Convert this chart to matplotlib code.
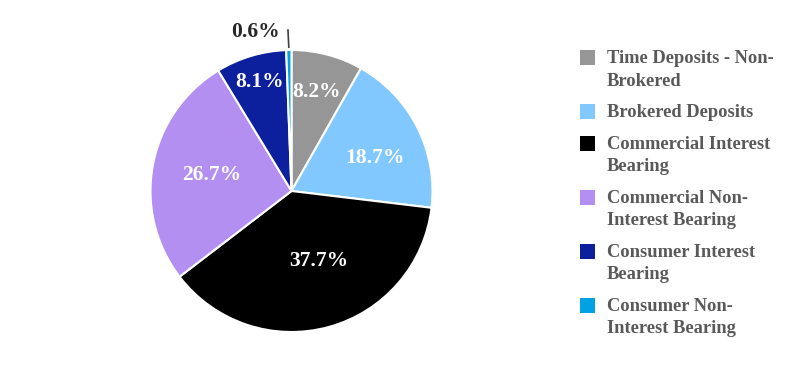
import matplotlib
matplotlib.use("Agg")
import matplotlib.pyplot as plt
from matplotlib.patches import Rectangle
import numpy as np

categories = ["Time Deposits - Non-\nBrokered", "Brokered Deposits", "Commercial Interest\nBearing",
              "Commercial Non-\nInterest Bearing", "Consumer Interest\nBearing", "Consumer Non-\nInterest Bearing"]
values = [8.2, 18.7, 37.7, 26.7, 8.1, 0.6]
colors = ["#969696", "#80c8ff", "#000000", "#b38ff2", "#0c1f9c", "#00a2e3"]

# label positions (data units of the pie axes, radius 1)
label_pos = [(0.174, 0.702), (0.592, 0.234), (0.191, -0.50), (-0.564, 0.116), (-0.227, 0.77), (-0.259, 1.131)]

plt.rcParams['font.family'] = ['Liberation Serif', 'DejaVu Serif']
W, H = 806, 384
fig = plt.figure(figsize=(W/100, H/100), dpi=100)
cx, cy, r = 291.5, 191, 141
ax = fig.add_axes([(cx-r)/W, (H-cy-r)/H, 2*r/W, 2*r/H])
wedges, _ = ax.pie(values, colors=colors, startangle=90, counterclock=False, radius=1,
                   wedgeprops=dict(edgecolor="white", linewidth=1.5))
ax.set_xlim(-1, 1); ax.set_ylim(-1, 1); ax.set_aspect('equal'); ax.axis('off')

cum = 0
for i, v in enumerate(values):
    mid = 90 - (cum + v/2) * 3.6
    cum += v
    lx, ly = label_pos[i]
    if i < 5:
        ax.text(lx, ly, f"{v}%", ha='center', va='center', color='white',
                fontsize=15.5, fontweight='bold')
    else:
        x0, y0 = np.cos(np.radians(mid)), np.sin(np.radians(mid))
        ax.plot([x0*1.02, -0.025], [y0*1.02, 1.142], color='#404040', lw=1.2, clip_on=False)
        ax.text(lx, ly, f"{v}%", ha='center', va='center', color='#262626',
                fontsize=15.5, fontweight='bold', clip_on=False)

# legend
base0, line_step, entry_gap = 63.3, 22.2, 31.8
b = base0
for lab, c in zip(categories, colors):
    lines = lab.split("\n")
    fig.patches.append(Rectangle((580/W, (H-b-2)/H), 15/W, 15/H, transform=fig.transFigure,
                                 facecolor=c, edgecolor='none'))
    for j, ln in enumerate(lines):
        fig.text(607/W, (H-b)/H, ln, ha='left', va='baseline',
                 color='#595959', fontsize=13.3, fontweight='bold')
        if j < len(lines) - 1:
            b += line_step
    b += entry_gap
fig.savefig("out.png", dpi=100)
